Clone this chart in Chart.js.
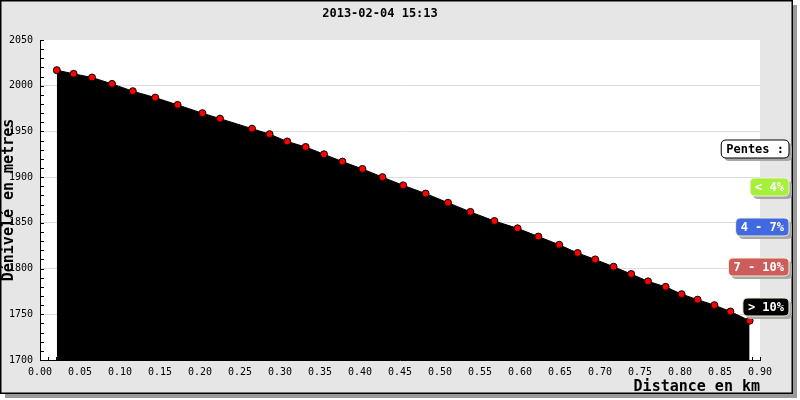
<!DOCTYPE html>
<html>
<head>
<meta charset="utf-8">
<script src="https://cdn.jsdelivr.net/npm/chart.js@4.4.0/dist/chart.umd.min.js"></script>
<style>
  html, body { margin: 0; padding: 0; background: #fff; }
</style>
</head>
<body>
<canvas id="profile" width="800" height="400"></canvas>
<script>
// Chart data
const titleText = '2013-02-04 15:13';
const distances = [0.021, 0.042, 0.065, 0.090, 0.116, 0.144, 0.172, 0.203, 0.225, 0.265,
                   0.287, 0.309, 0.332, 0.355, 0.378, 0.403, 0.428, 0.454, 0.482, 0.510,
                   0.538, 0.568, 0.597, 0.623, 0.649, 0.672, 0.694, 0.717, 0.739, 0.760,
                   0.782, 0.802, 0.822, 0.843, 0.863, 0.887];
const elevations = [2017, 2013, 2009, 2002, 1994, 1987, 1979, 1970, 1964, 1953,
                    1947, 1939, 1933, 1925, 1917, 1909, 1900, 1891, 1882, 1872,
                    1862, 1852, 1844, 1835, 1826, 1817, 1810, 1802, 1794, 1786,
                    1780, 1772, 1766, 1760, 1753, 1743];
const yTicks = [1700, 1750, 1800, 1850, 1900, 1950, 2000, 2050];
const xTicks = [0, 0.05, 0.10, 0.15, 0.20, 0.25, 0.30, 0.35, 0.40, 0.45,
                0.50, 0.55, 0.60, 0.65, 0.70, 0.75, 0.80, 0.85, 0.90];
const slopeHeader = 'Pentes :';
const slopeLabels = ['< 4%', '4 - 7%', '7 - 10%', '> 10%'];
const slopeColors = ['#a4f03a', '#4169e1', '#cd5c5c', '#000000'];

const mono = '"DejaVu Sans Mono", monospace';

// frame + white plot area
const framePlugin = {
    id: 'frame',
    beforeDraw(chart) {
        const ctx = chart.ctx;
        const a = chart.chartArea;
        ctx.save();
        ctx.fillStyle = '#fff';
        ctx.fillRect(0, 0, 800, 400);
        ctx.fillStyle = '#9a9a9a';
        ctx.fillRect(5, 394, 792, 4);
        ctx.fillRect(793, 5, 4, 393);
        ctx.fillStyle = '#e6e6e6';
        ctx.fillRect(0, 0, 793, 394);
        ctx.strokeStyle = '#000';
        ctx.lineWidth = 1.5;
        ctx.strokeRect(0.75, 0.75, 791.5, 392.5);
        ctx.fillStyle = '#fff';
        ctx.fillRect(a.left, a.top, a.right - a.left, a.bottom - a.top);
        ctx.restore();
    }
};

// small inside tick marks on both axes
const minorTicks = {
    id: 'minorTicks',
    beforeDatasetsDraw(chart) {
        const ctx = chart.ctx;
        const xs = chart.scales.x, ys = chart.scales.y;
        const a = chart.chartArea;
        ctx.save();
        ctx.strokeStyle = '#000';
        ctx.lineWidth = 1;
        ctx.beginPath();
        for (let v = ys.min; v <= ys.max; v += 10) {
            const y = Math.round(ys.getPixelForValue(v)) + 0.5;
            ctx.moveTo(a.left, y);
            ctx.lineTo(a.left + 4, y);
        }
        for (let i = 0; i <= 90; i++) {
            const x = Math.round(xs.getPixelForValue(i / 100)) + 0.5;
            ctx.moveTo(x, a.bottom);
            ctx.lineTo(x, a.bottom - 3);
        }
        ctx.stroke();
        ctx.restore();
    }
};

function roundBox(ctx, x, y, w, h, r) {
    ctx.beginPath();
    ctx.moveTo(x + r, y);
    ctx.lineTo(x + w - r, y);
    ctx.quadraticCurveTo(x + w, y, x + w, y + r);
    ctx.lineTo(x + w, y + h - r);
    ctx.quadraticCurveTo(x + w, y + h, x + w - r, y + h);
    ctx.lineTo(x + r, y + h);
    ctx.quadraticCurveTo(x, y + h, x, y + h - r);
    ctx.lineTo(x, y + r);
    ctx.quadraticCurveTo(x, y, x + r, y);
    ctx.closePath();
}

// slope legend on the right
const slopeLegend = {
    id: 'slopeLegend',
    afterDraw(chart) {
        const ctx = chart.ctx;
        ctx.save();
        ctx.font = 'bold 12px ' + mono;
        ctx.textBaseline = 'middle';
        const right = 789;
        const items = [{ text: slopeHeader, fill: '#fff', ink: '#000', edge: '#000', cy: 149 }];
        slopeLabels.forEach((t, i) => {
            items.push({ text: t, fill: slopeColors[i], ink: '#fff', edge: '#f4f0d0', cy: 187 + i * 40 });
        });
        items.forEach(it => {
            const w = ctx.measureText(it.text).width + 10;
            const h = 18;
            const x = right - w, y = it.cy - h / 2;
            ctx.fillStyle = '#a8a8a8';
            roundBox(ctx, x + 3, y + 3, w, h, 5);
            ctx.fill();
            ctx.fillStyle = it.fill;
            roundBox(ctx, x, y, w, h, 5);
            ctx.fill();
            ctx.strokeStyle = it.edge;
            ctx.lineWidth = 1;
            ctx.stroke();
            ctx.fillStyle = it.ink;
            ctx.fillText(it.text, x + 5, it.cy + 1);
        });
        ctx.restore();
    }
};

const chart = new Chart(document.getElementById('profile').getContext('2d'), {
    type: 'line',
    data: {
        datasets: [{
            label: 'Altitude',
            data: distances.map((d, i) => ({ x: d, y: elevations[i] })),
            borderColor: '#000',
            borderWidth: 1,
            backgroundColor: '#000',
            fill: 'start',
            tension: 0,
            pointRadius: 3.5,
            pointBackgroundColor: '#ff0000',
            pointBorderColor: '#000',
            pointBorderWidth: 1
        }]
    },
    options: {
        responsive: false,
        animation: false,
        devicePixelRatio: 1,
        layout: { padding: { left: 0, right: 40, top: 0, bottom: 7 } },
        plugins: {
            legend: { display: false },
            tooltip: { enabled: false },
            title: {
                display: true,
                text: titleText,
                color: '#000',
                font: { family: mono, size: 12, weight: 'bold' },
                padding: { top: 7, bottom: 18.6 }
            }
        },
        scales: {
            x: {
                type: 'linear',
                min: 0,
                max: 0.9,
                afterBuildTicks: s => { s.ticks = xTicks.map(v => ({ value: v })); },
                afterFit: s => { s.height = 33; },
                ticks: {
                    color: '#000',
                    font: { family: mono, size: 10 },
                    padding: 6,
                    maxRotation: 0,
                    callback: v => Number(v).toFixed(2)
                },
                grid: { display: false, drawTicks: false },
                border: { display: true, color: '#000', width: 1 },
                title: {
                    display: true,
                    text: 'Distance en km',
                    align: 'end',
                    color: '#000',
                    font: { family: mono, size: 15, weight: 'bold', lineHeight: 1 },
                    padding: { top: 0, bottom: -2 }
                }
            },
            y: {
                min: 1700,
                max: 2050,
                afterBuildTicks: s => { s.ticks = yTicks.map(v => ({ value: v })); },
                afterFit: s => { s.width = 40; },
                ticks: {
                    color: '#000',
                    font: { family: mono, size: 10 },
                    padding: 7,
                    callback: v => String(v)
                },
                grid: {
                    drawTicks: false,
                    color: c => (c.tick && c.tick.value === 2050) ? 'rgba(0,0,0,0)' : '#dcdcdc'
                },
                border: { display: true, color: '#000', width: 1 },
                title: {
                    display: true,
                    text: 'Dénivelé en metres',
                    color: '#000',
                    font: { family: mono, size: 15, weight: 'bold', lineHeight: 1 },
                    padding: { top: 1.5, bottom: 0 }
                }
            }
        }
    },
    plugins: [framePlugin, minorTicks, slopeLegend]
});
</script>
</body>
</html>
